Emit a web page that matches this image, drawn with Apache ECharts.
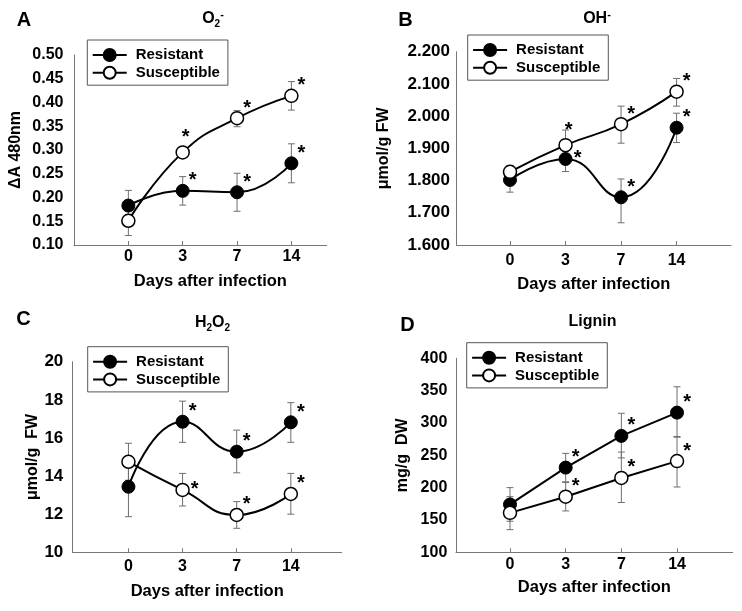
<!DOCTYPE html>
<html><head><meta charset="utf-8">
<script src="https://cdn.jsdelivr.net/npm/echarts@6/dist/echarts.min.js"></script>
<style>html,body{margin:0;padding:0;background:#fff}#c{width:742px;height:611px}</style>
</head><body><div id="c"></div>
<script>
// ---------- data ----------
const days = ['0', '3', '7', '14'];
const seriesNames = ['Resistant', 'Susceptible'];

// Panel A: O2-  (ΔA 480nm)
const aResMean = [0.183, 0.214, 0.211, 0.272];
const aResHi   = [0.215, 0.244, 0.251, 0.313];
const aResLo   = [0.151, 0.184, 0.171, 0.231];
const aSusMean = [0.151, 0.295, 0.367, 0.414];
const aSusHi   = [0.182, 0.300, 0.383, 0.444];
const aSusLo   = [0.120, 0.290, 0.349, 0.384];
const aYTicks  = [0.10, 0.50, 0.05];

// Panel B: OH-  (μmol/g FW)
const bResMean = [1.802, 1.867, 1.748, 1.964];
const bResHi   = [1.840, 1.890, 1.805, 2.009];
const bResLo   = [1.764, 1.828, 1.669, 1.918];
const bSusMean = [1.827, 1.910, 1.975, 2.076];
const bSusHi   = [1.847, 1.957, 2.031, 2.117];
const bSusLo   = [1.807, 1.863, 1.916, 2.031];
const bYTicks  = [1.6, 2.2, 0.1];

// Panel C: H2O2 (μmol/g FW)
const cResMean = [13.44, 16.85, 15.28, 16.82];
const cResHi   = [15.00, 17.93, 16.41, 17.85];
const cResLo   = [11.87, 15.77, 14.17, 15.77];
const cSusMean = [14.75, 13.27, 11.96, 13.06];
const cSusHi   = [15.72, 14.14, 12.66, 14.14];
const cSusLo   = [13.78, 12.43, 11.26, 12.00];
const cYTicks  = [10, 20, 2];

// Panel D: Lignin (mg/g DW)
const dResMean = [174, 231, 280, 316];
const dResHi   = [200, 253, 315, 356];
const dResLo   = [148, 209, 246, 279];
const dSusMean = [161, 186, 215, 241];
const dSusHi   = [186, 208, 255, 278];
const dSusLo   = [135, 164, 177, 201];
const dYTicks  = [100, 400, 50];

// significance stars (1 = star shown)
const sigRes = [0, 1, 1, 1];
const sigSus = [0, 1, 1, 1];

// ---------- layout ----------
const FONT = '"Liberation Sans", Arial, sans-serif';
const panels = [
  { letter: 'A', title: '{m|O}{sub|2}{sup|-}', yName: 'ΔA 480nm', dec: 2, ticks: aYTicks, smooth: true,
    res: [aResMean, aResLo, aResHi], sus: [aSusMean, aSusLo, aSusHi], ySize: 16,
    grid: { left: 74, top: 55, width: 252.7, height: 190 }, xMin: -1.0, xMax: 3.65,
    yGap: 50, yMargin: 10.5, xGap: 27.7, xMargin: 4, xNamePad: 20,
    legend: { left: 87.3, top: 40 }, letterPos: [24, 20.5], titlePos: [213, 19],
    starPlace: { sus: ['', 'above', '', ''], res: ['', '', '', ''] } },
  { letter: 'B', title: '{m|OH}{sup|-}', yName: 'μmol/g FW', dec: 3, ticks: bYTicks, smooth: true,
    res: [bResMean, bResLo, bResHi], sus: [bSusMean, bSusLo, bSusHi], ySize: 17,
    grid: { left: 456.7, top: 51.7, width: 274.3, height: 193.3 }, xMin: -0.96, xMax: 3.98,
    yGap: 64.7, yMargin: 6.7, xGap: 31, xMargin: 8, xNamePad: 0,
    legend: { left: 467.7, top: 35 }, letterPos: [405.5, 20.5], titlePos: [597, 19],
    starPlace: { sus: ['', 'above', '', ''], res: ['', 'side', '', ''] } },
  { letter: 'C', title: '{m|H}{sub|2}{m|O}{sub|2}', yName: 'μmol/g  FW', dec: 0, ticks: cYTicks, smooth: true,
    res: [cResMean, cResLo, cResHi], sus: [cSusMean, cSusLo, cSusHi], ySize: 17,
    grid: { left: 72.7, top: 361.7, width: 269, height: 190.6 }, xMin: -1.03, xMax: 3.94,
    yGap: 30.7, yMargin: 9.4, xGap: 30.4, xMargin: 6, xNamePad: 0,
    legend: { left: 87.7, top: 346.7 }, letterPos: [23.5, 319.5], titlePos: [212.5, 323],
    starPlace: { sus: ['', 'side', '', ''], res: ['', '', '', ''] } },
  { letter: 'D', title: '{m|Lignin}', yName: 'mg/g  DW', dec: 0, ticks: dYTicks, smooth: false,
    res: [dResMean, dResLo, dResHi], sus: [dSusMean, dSusLo, dSusHi], ySize: 16,
    grid: { left: 456, top: 358.3, width: 276.7, height: 194 }, xMin: -0.97, xMax: 4.0,
    yGap: 45.5, yMargin: 8.7, xGap: 27, xMargin: 4, xNamePad: 0,
    legend: { left: 466.7, top: 342.7 }, letterPos: [407.5, 325.5], titlePos: [592.5, 322],
    starPlace: { sus: ['', '', '', ''], res: ['', '', '', ''] } }
];

const axisColor = '#777';
const option = {
  animation: false,
  backgroundColor: '#fff',
  textStyle: { fontFamily: FONT },
  grid: [], xAxis: [], yAxis: [], series: [], legend: [], graphic: []
};

function errStarSeries(gi, arr, sig, place) {
  const [mean, lo, hi] = arr;
  return {
    type: 'custom', xAxisIndex: gi, yAxisIndex: gi, z: 1, silent: true,
    data: mean.map((m, i) => [i, m, lo[i], hi[i]]),
    encode: { x: 0, y: [1, 2, 3] },
    renderItem(params, api) {
      const i = api.value(0);
      const p = api.coord([i, api.value(1)]);
      const l = api.coord([i, api.value(2)]);
      const h = api.coord([i, api.value(3)]);
      const cw = 3.5;
      const st = { stroke: '#6e6e6e', lineWidth: 1 };
      const children = [
        { type: 'line', shape: { x1: p[0], y1: l[1], x2: p[0], y2: h[1] }, style: st },
        { type: 'line', shape: { x1: p[0] - cw, y1: l[1], x2: p[0] + cw, y2: l[1] }, style: st },
        { type: 'line', shape: { x1: p[0] - cw, y1: h[1], x2: p[0] + cw, y2: h[1] }, style: st }
      ];
      const idx = params.dataIndex;
      if (sig[idx]) {
        let sx = p[0] + 10, sy = p[1] - 15;
        if (place[idx] === 'above') { sx = p[0] + 3; sy = p[1] - 20; }
        if (place[idx] === 'side') { sx = p[0] + 12; sy = p[1] - 5; }
        children.push({ type: 'text', z2: 10, style: { x: sx, y: sy + 5, text: '*', fill: '#000',
          font: 'bold 20px ' + FONT, align: 'center', verticalAlign: 'middle' } });
      }
      return { type: 'group', children };
    }
  };
}

panels.forEach((pn, gi) => {
  option.grid.push(Object.assign({ containLabel: false }, pn.grid));
  option.xAxis.push({
    gridIndex: gi, type: 'value', min: pn.xMin, max: pn.xMax,
    axisLine: { show: true, onZero: false, lineStyle: { color: axisColor, width: 1 } },
    axisTick: { show: true, inside: true, length: 4, customValues: [0, 1, 2, 3], lineStyle: { color: axisColor } },
    axisLabel: { customValues: [0, 1, 2, 3], margin: pn.xMargin,
      formatter: v => days[Math.round(v)],
      fontSize: 16, fontWeight: 'bold', color: '#000', fontFamily: FONT },
    splitLine: { show: false },
    name: 'Days after infection', nameLocation: 'middle', nameGap: pn.xGap,
    nameTextStyle: { fontSize: 16.5, fontWeight: 'bold', color: '#000', fontFamily: FONT,
      padding: [0, 0, 0, pn.xNamePad] }
  });
  option.yAxis.push({
    gridIndex: gi, type: 'value', min: pn.ticks[0], max: pn.ticks[1], interval: pn.ticks[2],
    axisLine: { show: true, onZero: false, lineStyle: { color: axisColor, width: 1 } },
    axisTick: { show: false },
    axisLabel: { margin: pn.yMargin, formatter: v => v.toFixed(pn.dec),
      fontSize: pn.ySize, fontWeight: 'bold', color: '#000', fontFamily: FONT },
    splitLine: { show: false },
    name: pn.yName, nameLocation: 'middle', nameGap: pn.yGap,
    nameTextStyle: { fontSize: 16, fontWeight: 'bold', color: '#000', fontFamily: FONT }
  });
  option.series.push(errStarSeries(gi, pn.res, sigRes, pn.starPlace.res));
  option.series.push(errStarSeries(gi, pn.sus, sigSus, pn.starPlace.sus));
  option.series.push({
    type: 'line', name: seriesNames[0], xAxisIndex: gi, yAxisIndex: gi, z: 3,
    data: pn.res[0].map((m, i) => [i, m]), smooth: pn.smooth,
    symbol: 'circle', symbolSize: 13,
    lineStyle: { color: '#000', width: 2 },
    itemStyle: { color: '#000', borderColor: '#000', borderWidth: 1 }
  });
  option.series.push({
    type: 'line', name: seriesNames[1], xAxisIndex: gi, yAxisIndex: gi, z: 4,
    data: pn.sus[0].map((m, i) => [i, m]), smooth: pn.smooth,
    symbol: 'circle', symbolSize: 13,
    lineStyle: { color: '#000', width: 2 },
    itemStyle: { color: '#fff', borderColor: '#000', borderWidth: 1.5 }
  });
  option.legend.push({
    data: seriesNames, orient: 'vertical', left: pn.legend.left, top: pn.legend.top,
    selectedMode: false, borderColor: '#555', borderWidth: 1,
    padding: [7.5, 8, 5, 4.4], itemGap: 2.7, itemWidth: 34, itemHeight: 15,
    textStyle: { fontSize: 15, fontWeight: 'bold', color: '#000', fontFamily: FONT,
      lineHeight: 15, padding: [0, 0, 0, 4] }
  });
  option.graphic.push({
    type: 'text', x: pn.letterPos[0], y: pn.letterPos[1],
    style: { text: pn.letter, font: 'bold 20px ' + FONT, fill: '#000', align: 'center', verticalAlign: 'middle' }
  });
  option.graphic.push({
    type: 'text', x: pn.titlePos[0], y: pn.titlePos[1],
    style: { text: pn.title, align: 'center', verticalAlign: 'middle', fill: '#000',
      rich: {
        m: { fontSize: 16, fontWeight: 'bold', fontFamily: FONT, lineHeight: 20, fill: '#000' },
        sub: { fontSize: 10, fontWeight: 'bold', fontFamily: FONT, lineHeight: 10, verticalAlign: 'bottom', fill: '#000' },
        sup: { fontSize: 11, fontWeight: 'bold', fontFamily: FONT, lineHeight: 10, verticalAlign: 'top', fill: '#000' }
      } }
  });
});

const chart = echarts.init(document.getElementById('c'), null, { renderer: 'canvas' });
chart.setOption(option);
</script>
</body></html>
